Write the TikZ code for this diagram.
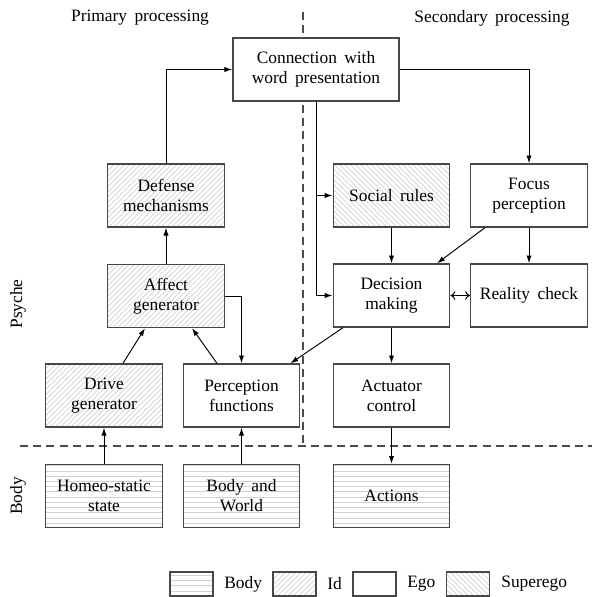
\documentclass[tikz,border=0pt]{standalone}
\usepackage{fontspec}
\setmainfont{Liberation Serif}[WordSpace=1.7]
\usetikzlibrary{arrows.meta,patterns,calc}
\begin{document}
\begin{tikzpicture}[x=0.575pt,y=-0.575pt,
  box/.style={draw=black!72,line width=0.8pt,minimum width=67pt,minimum height=36.2pt,align=center,inner sep=1pt,font=\fontsize{10}{11.5}\selectfont},
  bodybox/.style={box,pattern=horizontal lines,pattern color=black!18},
  idbox/.style={box,pattern=north east lines,pattern color=black!18},
  supbox/.style={box,pattern=north west lines,pattern color=black!18},
  egobox/.style={box,fill=white},
  legbox/.style={draw=black!72,line width=0.8pt,minimum width=24.7pt,minimum height=13.8pt,inner sep=0pt},
  arr/.style={line width=0.55pt,-{Latex[length=4.5pt,width=3pt]}},
  darr/.style={line width=0.55pt,{To[length=2.8pt,width=5pt]}-{To[length=2.8pt,width=5pt]}},
  sep/.style={draw=black!70,line width=0.8pt,dash pattern=on 4.6pt off 3pt},
  lab/.style={font=\fontsize{10}{12}\selectfont,inner sep=0pt}
]
\useasboundingbox (0,0) rectangle (592,597);
% separators
\coordinate (vt) at (303,12);
\coordinate (vb) at (303,446);
\coordinate (hl) at (20,446);
\coordinate (hr) at (592,446);
\draw[sep] (vt) -- (vb);
\draw[sep] (hl) -- (hr);
% headings
\node[lab] (prim) at (140,18) {Primary processing};
\node[lab] (sec) at (492,18) {Secondary processing};
\node[lab,rotate=90] (psy) at (18,304) {Psyche};
\node[lab,rotate=90] (bod) at (18,496) {Body};
% boxes
\node[egobox,minimum width=95.5pt] (conn) at (316,69.5) {Connection with\\word presentation};
\node[idbox] (def) at (166,195.5) {Defense\\mechanisms};
\node[idbox] (aff) at (166,296) {Affect\\generator};
\node[idbox] (drive) at (104,395.5) {Drive\\generator};
\node[egobox] (perc) at (241.5,395.5) {Perception\\functions};
\node[bodybox] (homeo) at (104,496) {Homeo-static\\state};
\node[bodybox] (bw) at (241.5,496) {Body and\\World};
\node[supbox] (social) at (391.5,195.5) {Social rules};
\node[egobox] (focus) at (529,195.5) {Focus\\perception};
\node[egobox] (dec) at (391.5,295.5) {Decision\\making};
\node[egobox] (real) at (529,295.5) {Reality check};
\node[egobox] (act) at (391.5,395.5) {Actuator\\control};
\node[bodybox] (actions) at (391.5,496) {Actions};
% connectors
\draw[arr] (def.north) |- (conn.west);
\draw[arr] (aff.north) -- (def.south);
\draw[arr] (aff.east) -| (perc.north);
\draw[arr] ($(drive.north)+(19,0)$) -- ($(aff.south)+(-21,0)$);
\draw[arr] ($(perc.north)+(-24.5,0)$) -- ($(aff.south)+(26,0)$);
\draw[arr] ($(dec.south)+(-48.5,0)$) -- ($(perc.north east)+(-10,0)$);
\draw[arr] (conn.south) |- (dec.west);
\draw[arr] (conn.south |- social.west) -- (social.west);
\draw[arr] (conn.east) -| (focus.north);
\draw[arr] (social.south) -- (dec.north);
\draw[arr] ($(focus.south)+(-44,0)$) -- ($(dec.north)+(45.5,0)$);
\draw[arr] (focus.south) -- (real.north);
\draw[darr] (dec.east) -- (real.west);
\draw[arr] (dec.south) -- (act.north);
\draw[arr] (act.south) -- (actions.north);
\draw[arr] (homeo.north) -- (drive.south);
\draw[arr] (bw.north) -- (perc.south);
% legend
\node[legbox,pattern=horizontal lines,pattern color=black!18] (lb) at (191.5,584) {};
\node[lab,anchor=west] (lbt) at (224,584) {Body};
\node[legbox,pattern=north east lines,pattern color=black!18] (li) at (294.5,584) {};
\node[lab,anchor=west] (lit) at (327,584) {Id};
\node[legbox] (le) at (374.5,584) {};
\node[lab,anchor=west] (let) at (407,584) {Ego};
\node[legbox,pattern=north west lines,pattern color=black!18] (ls) at (468,584) {};
\node[lab,anchor=west] (lst) at (501,584) {Superego};
\end{tikzpicture}
\end{document}
